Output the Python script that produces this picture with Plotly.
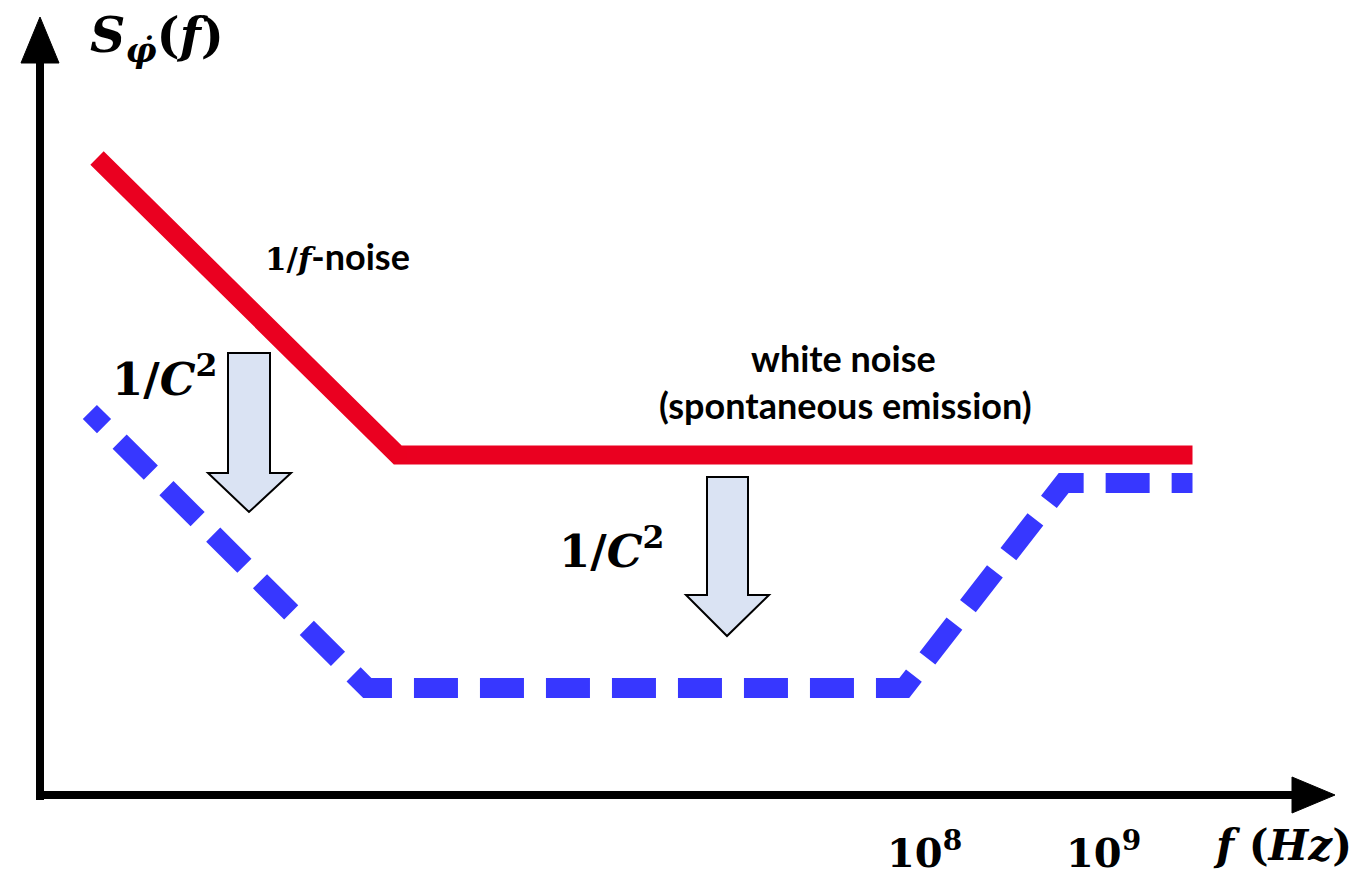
import plotly.graph_objects as go

# ---------------- data (x: log10 of frequency, y: arbitrary log-PSD units) ----------------
red_logf = [3.38, 5.06, 9.50]          # 1/f noise -> white noise (spontaneous emission)
red_S = [6.37, 3.40, 3.40]
blue_logf = [3.34, 4.89, 7.89, 8.78, 9.50]   # reduced noise (1/C^2)
blue_S = [3.83, 1.07, 1.07, 3.12, 3.12]
tick_logf = [8, 9]
tick_labels = ["<b>10<sup>8</sup></b>", "<b>10<sup>9</sup></b>"]

# ---------------- layout helpers (pixel -> data) ----------------
W, H = 1371, 880
PX_PER_DEC = 179.0
X8 = 924.0      # pixel column of 10^8
Y0 = 795.0      # pixel row of the frequency axis
PX_PER_UNIT = 100.0


def X(px):
    return 8 + (px - X8) / PX_PER_DEC


def Y(py):
    return (Y0 - py) / PX_PER_UNIT


SERIF = "DejaVu Serif"
SANS = "Lato"

# dash pattern: short first dash, then regular dashes
BLUE_DASH = "20px,22px" + ",44px,22px" * 26

fig = go.Figure()

fig.add_trace(go.Scatter(
    x=red_logf, y=red_S, mode="lines+markers",
    line=dict(color="#EA0020", width=19),
    marker=dict(color="#EA0020", size=[0, 18, 0], line=dict(width=0)),
    hoverinfo="skip", showlegend=False))

fig.add_trace(go.Scatter(
    x=blue_logf, y=blue_S, mode="lines",
    line=dict(color="#3737FF", width=20, dash=BLUE_DASH),
    hoverinfo="skip", showlegend=False))

shapes = []


def path_from(pts):
    return "M " + " L ".join(f"{X(a)},{Y(b)}" for a, b in pts) + " Z"


# axes with arrowheads
shapes.append(dict(type="line", xref="x", yref="y", x0=X(40), x1=X(40), y0=Y(800), y1=Y(55),
                   line=dict(color="black", width=8)))
shapes.append(dict(type="path", xref="x", yref="y",
                   path=path_from([(40, 17), (21, 63), (59, 63)]),
                   fillcolor="black", line=dict(color="black", width=1)))
shapes.append(dict(type="line", xref="x", yref="y", x0=X(36), x1=X(1300), y0=Y(795), y1=Y(795),
                   line=dict(color="black", width=8)))
shapes.append(dict(type="path", xref="x", yref="y",
                   path=path_from([(1335, 795), (1292, 777), (1292, 813)]),
                   fillcolor="black", line=dict(color="black", width=1)))


# block arrows (1/C^2 reduction)
def block_arrow(l, r, top, neck, hl, hr, tipx, tipy):
    return path_from([(l, top), (r, top), (r, neck), (hr, neck), (tipx, tipy),
                      (hl, neck), (l, neck)])


shapes.append(dict(type="path", xref="x", yref="y",
                   path=block_arrow(228, 270, 353, 473, 208, 291, 249, 512),
                   fillcolor="#DAE3F3", line=dict(color="black", width=2)))
shapes.append(dict(type="path", xref="x", yref="y",
                   path=block_arrow(707, 748, 477, 595, 686, 769, 727, 636),
                   fillcolor="#DAE3F3", line=dict(color="black", width=2)))

ann = []


def text(px, py, s, size, family=SERIF, xanchor="center"):
    ann.append(dict(x=X(px), y=Y(py), xref="x", yref="y", text=s, showarrow=False,
                    font=dict(family=family, size=size, color="black"),
                    xanchor=xanchor, yanchor="middle"))


text(88, 38, "<b><i>S</i></b><sub><b><i>φ̇</i></b></sub><b>(<i>f</i>)</b>", 49, xanchor="left")
text(337, 256, "<b>1/<i>f</i></b>"
     f"<span style='font-family:{SANS};font-size:36px'><b>-noise</b></span>", 31)
text(165, 376, "<b>1/<i>C</i><sup>2</sup></b>", 45)
text(612, 548, "<b>1/<i>C</i><sup>2</sup></b>", 45)
text(843, 358, "<b>white noise</b>", 36, family=SANS)
text(845, 405, "<b>(spontaneous emission)</b>", 36, family=SANS)
for lf, lab in zip(tick_logf, tick_labels):
    text(X8 + (lf - 8) * PX_PER_DEC, 850, lab, 40)
text(1282, 845, "<b><i>f</i> (<i>Hz</i>)</b>", 42)

fig.update_layout(
    width=W, height=H, margin=dict(l=0, r=0, t=0, b=0),
    paper_bgcolor="white", plot_bgcolor="white",
    xaxis=dict(range=[X(0), X(W)], visible=False, fixedrange=True),
    yaxis=dict(range=[Y(H), Y(0)], visible=False, fixedrange=True),
    shapes=shapes, annotations=ann,
)

fig.write_html("out.html")
